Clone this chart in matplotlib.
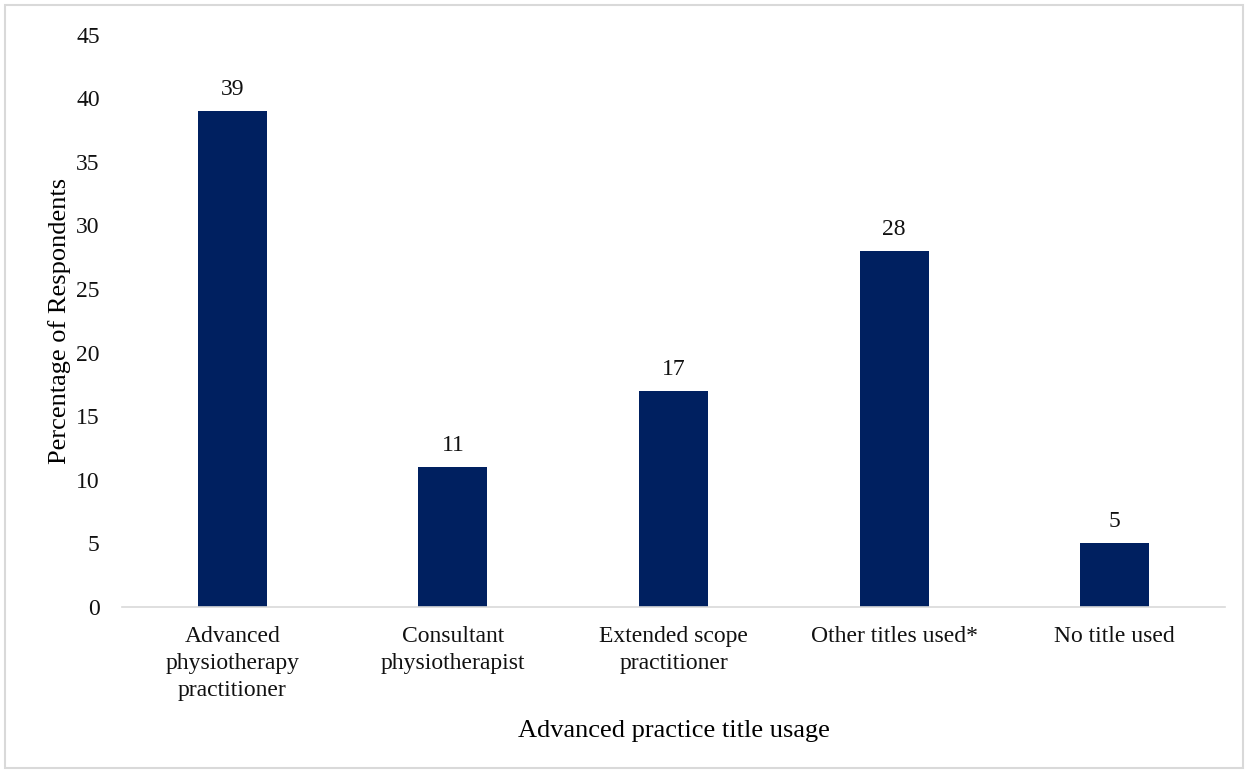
import matplotlib.pyplot as plt
from matplotlib.patches import Rectangle

categories = ['Advanced\nphysiotherapy\npractitioner', 'Consultant\nphysiotherapist',
              'Extended scope\npractitioner', 'Other titles used*', 'No title used']
percentages = [39, 11, 17, 28, 5]
y_ticks = [0, 5, 10, 15, 20, 25, 30, 35, 40, 45]

plt.rcParams['font.family'] = ['Liberation Serif', 'DejaVu Serif']

fig = plt.figure(figsize=(12.47, 7.73), dpi=100)
ax = fig.add_axes([0.0978, 0.2147, 0.8846, 0.7405])

x = range(len(categories))
bars = ax.bar(x, percentages, width=0.313, color='#002060')

# value labels above each bar
for rect, val in zip(bars, percentages):
    ax.annotate(str(val), (rect.get_x() + rect.get_width() / 2, val),
                xytext=(0, 8), textcoords='offset points',
                ha='center', va='bottom', fontsize=17, color='#111111')

ax.set_xlim(-0.5, len(categories) - 0.5)
ax.set_ylim(0, 45)
ax.set_yticks(y_ticks)
ax.set_xticks(list(x))
ax.set_xticklabels(categories, fontsize=17, color='#111111', linespacing=1.35)
ax.tick_params(axis='y', labelsize=17, labelcolor='#111111', length=0, pad=16)
ax.tick_params(axis='x', length=0, pad=14)

for side in ['top', 'right', 'left']:
    ax.spines[side].set_visible(False)
ax.spines['bottom'].set_color('#d9d9d9')
ax.spines['bottom'].set_linewidth(1.2)

ax.set_ylabel('Percentage of Respondents', fontsize=19, color='#000000', labelpad=4)
ax.set_xlabel('Advanced practice title usage', fontsize=19, color='#000000', labelpad=14)

# light frame around the whole chart
fig.patches.append(Rectangle((5 / 1247, 5 / 773), 1238 / 1247, 763 / 773,
                             transform=fig.transFigure, fill=False,
                             edgecolor='#d9d9d9', linewidth=1.5))

fig.savefig('out.png', dpi=100)
